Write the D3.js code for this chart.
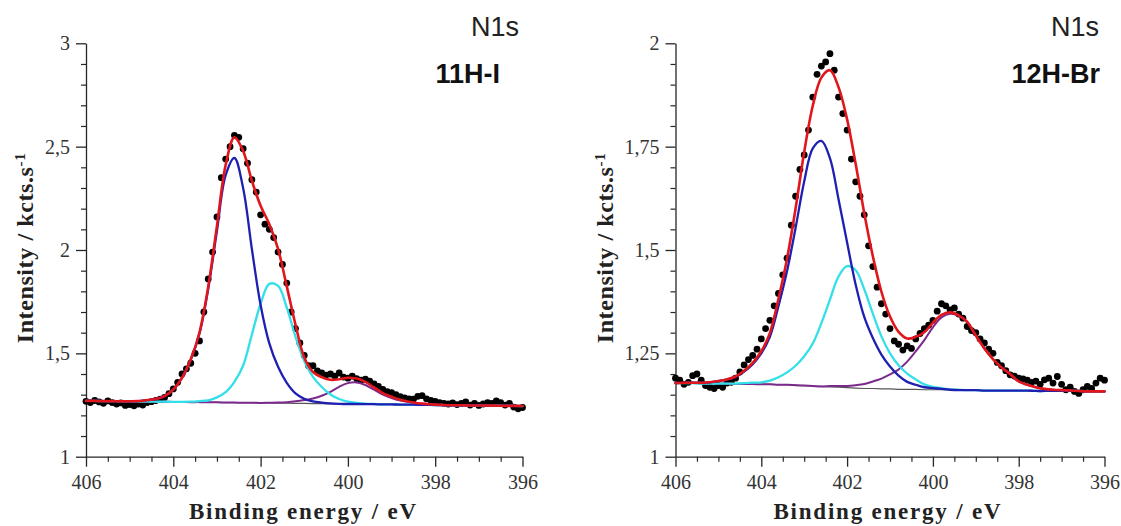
<!DOCTYPE html>
<html>
<head>
<meta charset="utf-8">
<script src="https://cdn.jsdelivr.net/npm/d3@7"></script>
<style>
  html, body { margin: 0; padding: 0; background: #fff; }
  svg { display: block; }
</style>
</head>
<body>
<svg id="chart" width="1121" height="526"></svg>
<script>
// ---------------- DATA ----------------
// Binding energy grid (eV) for the fitted curves
const fitEnergy = [406,405.8,405.6,405.4,405.2,405,404.8,404.6,404.4,404.2,404,403.8,403.6,403.4,403.2,403,402.8,402.6,402.4,402.2,402,401.8,401.6,401.4,401.2,401,400.8,400.6,400.4,400.2,400,399.8,399.6,399.4,399.2,399,398.8,398.6,398.4,398.2,398,397.8,397.6,397.4,397.2,397,396.8,396.6,396.4,396.2,396];
// Binding energy of the measured points (eV)
const dotEnergy = [406,405.9,405.8,405.7,405.6,405.5,405.4,405.3,405.2,405.1,405,404.9,404.8,404.7,404.6,404.5,404.4,404.3,404.2,404.1,404,403.9,403.8,403.7,403.6,403.5,403.4,403.3,403.2,403.1,403,402.9,402.8,402.7,402.6,402.5,402.4,402.3,402.2,402.1,402,401.9,401.8,401.7,401.6,401.5,401.4,401.3,401.2,401.1,401,400.9,400.8,400.7,400.6,400.5,400.4,400.3,400.2,400.1,400,399.9,399.8,399.7,399.6,399.5,399.4,399.3,399.2,399.1,399,398.9,398.8,398.7,398.6,398.5,398.4,398.3,398.2,398.1,398,397.9,397.8,397.7,397.6,397.5,397.4,397.3,397.2,397.1,397,396.9,396.8,396.7,396.6,396.5,396.4,396.3,396.2,396.1,396];

const xTickValues = [406,404,402,400,398,396];
const leftYTicks = [1,1.5,2,2.5,3];
const rightYTicks = [1,1.25,1.5,1.75,2];

const panelTitles = [["N1s","11H-I"],["N1s","12H-Br"]];
const xAxisTitle = "Binding energy / eV";
const yAxisTitle = "Intensity / kcts.s";
const yAxisTitleSup = "-1";

// ---- 11H-I (kcts/s) ----
const leftBackground = [1.270,1.270,1.269,1.269,1.268,1.268,1.267,1.267,1.266,1.266,1.265,1.265,1.264,1.264,1.263,1.263,1.262,1.262,1.261,1.261,1.260,1.260,1.259,1.259,1.258,1.258,1.257,1.257,1.256,1.256,1.255,1.255,1.254,1.254,1.253,1.253,1.252,1.252,1.251,1.251,1.250,1.250,1.249,1.249,1.248,1.248,1.247,1.247,1.246,1.246,1.245];
const leftBlue = [1.270,1.270,1.269,1.269,1.268,1.268,1.269,1.274,1.279,1.293,1.325,1.382,1.469,1.596,1.812,2.093,2.362,2.445,2.299,2.005,1.734,1.548,1.435,1.357,1.306,1.280,1.268,1.262,1.258,1.256,1.255,1.255,1.254,1.254,1.253,1.253,1.252,1.252,1.251,1.251,1.250,1.250,1.249,1.249,1.248,1.248,1.247,1.247,1.246,1.246,1.245];
const leftCyan = [1.270,1.270,1.269,1.269,1.268,1.268,1.267,1.267,1.266,1.266,1.265,1.265,1.266,1.269,1.273,1.287,1.312,1.362,1.441,1.591,1.740,1.836,1.826,1.721,1.580,1.463,1.386,1.337,1.301,1.279,1.266,1.260,1.257,1.255,1.253,1.253,1.252,1.252,1.251,1.251,1.250,1.250,1.249,1.249,1.248,1.248,1.247,1.247,1.246,1.246,1.245];
const leftPurple = [1.270,1.270,1.269,1.269,1.268,1.268,1.267,1.267,1.266,1.266,1.265,1.265,1.264,1.264,1.263,1.263,1.262,1.262,1.261,1.261,1.260,1.261,1.262,1.264,1.268,1.274,1.282,1.295,1.314,1.338,1.356,1.359,1.347,1.324,1.301,1.284,1.272,1.265,1.258,1.255,1.252,1.250,1.249,1.249,1.248,1.248,1.247,1.247,1.246,1.246,1.245];
const leftEnvelope = [1.270,1.270,1.269,1.269,1.268,1.268,1.269,1.274,1.279,1.293,1.325,1.382,1.471,1.601,1.822,2.117,2.412,2.545,2.479,2.335,2.214,2.125,2.005,1.824,1.638,1.480,1.410,1.385,1.372,1.375,1.382,1.378,1.362,1.335,1.308,1.290,1.275,1.266,1.259,1.255,1.252,1.250,1.249,1.249,1.248,1.248,1.247,1.247,1.246,1.246,1.245];
const leftCounts = [
  1.268,1.262,1.272,1.265,1.258,1.270,1.262,1.255,1.260,1.248,
  1.252,1.246,1.255,1.250,1.262,1.266,1.272,1.278,1.287,1.305,
  1.328,1.360,1.400,1.425,1.452,1.500,1.560,1.700,1.860,1.990,
  2.160,2.350,2.440,2.500,2.555,2.545,2.490,2.420,2.340,2.280,
  2.170,2.125,2.100,2.060,1.990,1.930,1.840,1.700,1.620,1.550,
  1.490,1.440,1.440,1.415,1.405,1.395,1.400,1.390,1.405,1.385,
  1.380,1.390,1.378,1.370,1.375,1.365,1.352,1.340,1.325,1.315,
  1.310,1.300,1.290,1.285,1.280,1.278,1.292,1.295,1.280,1.272,
  1.268,1.262,1.258,1.255,1.260,1.252,1.258,1.265,1.250,1.258,
  1.248,1.255,1.262,1.258,1.270,1.262,1.250,1.258,1.240,1.232,
  1.238];

// ---- 12H-Br (kcts/s) ----
const rightBackground = [1.178,1.178,1.178,1.177,1.177,1.177,1.177,1.176,1.176,1.176,1.175,1.175,1.174,1.174,1.173,1.172,1.171,1.170,1.169,1.168,1.167,1.166,1.165,1.165,1.164,1.164,1.163,1.163,1.163,1.162,1.162,1.162,1.161,1.161,1.161,1.161,1.160,1.160,1.160,1.160,1.160,1.160,1.159,1.159,1.159,1.159,1.159,1.159,1.158,1.158,1.158];
const rightBlue = [1.178,1.179,1.179,1.179,1.180,1.183,1.187,1.193,1.206,1.224,1.250,1.290,1.364,1.449,1.554,1.666,1.746,1.764,1.722,1.623,1.518,1.416,1.338,1.287,1.247,1.218,1.196,1.181,1.174,1.168,1.166,1.164,1.162,1.161,1.161,1.161,1.160,1.160,1.160,1.160,1.160,1.160,1.159,1.159,1.159,1.159,1.159,1.159,1.158,1.158,1.158];
const rightCyan = [1.178,1.178,1.178,1.177,1.177,1.177,1.177,1.177,1.178,1.179,1.180,1.184,1.192,1.204,1.220,1.243,1.274,1.323,1.380,1.436,1.461,1.451,1.405,1.346,1.291,1.250,1.221,1.201,1.187,1.175,1.169,1.166,1.163,1.162,1.161,1.161,1.160,1.160,1.160,1.160,1.160,1.160,1.159,1.159,1.159,1.159,1.159,1.159,1.158,1.158,1.158];
const rightPurple = [1.178,1.178,1.178,1.177,1.177,1.177,1.177,1.176,1.176,1.176,1.175,1.175,1.174,1.174,1.173,1.172,1.171,1.170,1.171,1.171,1.171,1.173,1.176,1.182,1.189,1.199,1.211,1.230,1.255,1.282,1.313,1.337,1.346,1.341,1.326,1.293,1.262,1.236,1.216,1.200,1.182,1.174,1.168,1.164,1.162,1.161,1.160,1.159,1.158,1.158,1.158];
const rightEnvelope = [1.178,1.179,1.179,1.179,1.180,1.183,1.187,1.194,1.208,1.227,1.255,1.299,1.382,1.479,1.601,1.737,1.849,1.917,1.935,1.894,1.816,1.708,1.589,1.485,1.399,1.339,1.302,1.286,1.290,1.301,1.324,1.343,1.349,1.342,1.326,1.293,1.262,1.236,1.216,1.200,1.182,1.174,1.168,1.164,1.162,1.161,1.160,1.159,1.158,1.158,1.158];
const rightCounts = [
  1.190,1.185,1.175,1.180,1.196,1.200,1.185,1.172,1.168,1.165,
  1.172,1.168,1.178,1.180,1.190,1.205,1.222,1.235,1.245,1.260,
  1.285,1.310,1.330,1.365,1.395,1.440,1.480,1.560,1.630,1.695,
  1.730,1.790,1.870,1.925,1.945,1.955,1.975,1.935,1.870,1.830,
  1.790,1.720,1.665,1.630,1.585,1.510,1.460,1.410,1.370,1.345,
  1.310,1.280,1.272,1.258,1.268,1.262,1.285,1.298,1.310,1.318,
  1.330,1.352,1.370,1.365,1.355,1.360,1.345,1.335,1.315,1.305,
  1.300,1.285,1.275,1.260,1.250,1.228,1.220,1.208,1.198,1.195,
  1.190,1.188,1.185,1.180,1.183,1.175,1.186,1.190,1.178,1.194,
  1.175,1.162,1.168,1.158,1.153,1.162,1.170,1.165,1.178,1.190,
  1.185];

// ---------------- LAYOUT / STYLE ----------------
const panels = [
  { left: 86, right: 522.5, yDomain: [1, 3], yTicks: leftYTicks, minorStep: 0.1,
    bg: leftBackground, blue: leftBlue, cyan: leftCyan, purple: leftPurple, env: leftEnvelope, counts: leftCounts,
    titles: panelTitles[0], titleRight: 519, subRight: 500, yTitleX: 33, xTitleX: 302.5 },
  { left: 675.5, right: 1104.5, yDomain: [1, 2], yTicks: rightYTicks, minorStep: 0.05,
    bg: rightBackground, blue: rightBlue, cyan: rightCyan, purple: rightPurple, env: rightEnvelope, counts: rightCounts,
    titles: panelTitles[1], titleRight: 1099, subRight: 1100, yTitleX: 613, xTitleX: 887 }
];
const plotTop = 43.3, plotBottom = 456.7;
const axisColor = "#262626";
const labelColor = "#333";
const serif = "'Liberation Serif', 'Times New Roman', serif";
const sans = "'Liberation Sans', Arial, sans-serif";

const svg = d3.select("#chart");
const fmt = v => String(v).replace(".", ",");

panels.forEach(p => {
  const g = svg.append("g");
  const x = d3.scaleLinear().domain([406, 396]).range([p.left, p.right]);
  const y = d3.scaleLinear().domain(p.yDomain).range([plotBottom, plotTop]);

  // minor ticks
  const majorX = new Set(xTickValues.map(v => v.toFixed(2)));
  const minorX = d3.range(396, 406.001, 0.5).filter(v => !majorX.has(v.toFixed(2)));
  const majorY = new Set(p.yTicks.map(v => v.toFixed(3)));
  const nMinor = Math.round((p.yDomain[1] - p.yDomain[0]) / p.minorStep);
  const minorY = d3.range(0, nMinor + 1).map(i => +(p.yDomain[0] + i * p.minorStep).toFixed(3))
                   .filter(v => !majorY.has(v.toFixed(3)));

  const gxMinor = g.append("g").attr("transform", `translate(0,${plotBottom})`)
    .call(d3.axisBottom(x).tickValues(minorX).tickSize(5).tickSizeOuter(0).tickFormat(""));
  const gyMinor = g.append("g").attr("transform", `translate(${p.left},0)`)
    .call(d3.axisLeft(y).tickValues(minorY).tickSize(5).tickSizeOuter(0).tickFormat(""));
  [gxMinor, gyMinor].forEach(a => { a.select(".domain").remove(); a.selectAll("line").attr("stroke", axisColor).attr("stroke-width", 1.2); });

  const gx = g.append("g").attr("transform", `translate(0,${plotBottom})`)
    .call(d3.axisBottom(x).tickValues(xTickValues).tickSize(10).tickSizeOuter(0).tickPadding(8).tickFormat(d => fmt(d)));
  const gy = g.append("g").attr("transform", `translate(${p.left},0)`)
    .call(d3.axisLeft(y).tickValues(p.yTicks).tickSize(10).tickSizeOuter(0).tickPadding(6).tickFormat(d => fmt(d)));
  [gx, gy].forEach(a => {
    a.select(".domain").attr("stroke", axisColor).attr("stroke-width", 1.3);
    a.selectAll("line").attr("stroke", axisColor).attr("stroke-width", 1.3);
    a.selectAll("text").attr("fill", labelColor).style("font-family", serif).style("font-size", "20px");
  });

  // data points
  g.append("g").selectAll("circle").data(p.counts).join("circle")
    .attr("cx", (d, i) => x(dotEnergy[i]))
    .attr("cy", d => y(d))
    .attr("r", 3.4)
    .attr("fill", "#000");

  // fitted curves
  const smooth = d3.line().x((d, i) => x(fitEnergy[i])).y(d => y(d)).curve(d3.curveCatmullRom.alpha(0.5));
  const straight = d3.line().x((d, i) => x(fitEnergy[i])).y(d => y(d));
  const curves = [
    { vals: p.bg, color: "#555", w: 1.2, gen: straight },
    { vals: p.purple, color: "#7b2a8c", w: 2.0, gen: smooth },
    { vals: p.cyan, color: "#33dfe8", w: 2.3, gen: smooth },
    { vals: p.blue, color: "#1f1fb2", w: 2.3, gen: smooth },
    { vals: p.env, color: "#e0161c", w: 2.6, gen: smooth }
  ];
  curves.forEach(c => {
    g.append("path").datum(c.vals).attr("d", c.gen)
      .attr("fill", "none").attr("stroke", c.color).attr("stroke-width", c.w)
      .attr("stroke-linejoin", "round").attr("stroke-linecap", "round");
  });

  // panel titles
  g.append("text").attr("x", p.titleRight).attr("y", 36).attr("text-anchor", "end")
    .style("font-family", sans).style("font-size", "27px").attr("fill", "#222").text(p.titles[0]);
  g.append("text").attr("x", p.subRight).attr("y", 83).attr("text-anchor", "end")
    .style("font-family", sans).style("font-size", "27px").style("font-weight", "bold").attr("fill", "#111").text(p.titles[1]);

  // axis titles
  g.append("text").attr("x", p.xTitleX).attr("y", 519).attr("text-anchor", "middle")
    .attr("textLength", 227).attr("lengthAdjust", "spacing")
    .style("font-family", serif).style("font-size", "23px").style("font-weight", "bold").attr("fill", "#222")
    .text(xAxisTitle);
  const yt = g.append("text").attr("transform", `translate(${p.yTitleX},248) rotate(-90)`)
    .attr("text-anchor", "middle")
    .style("font-family", serif).style("font-size", "24px").style("font-weight", "bold")
    .style("letter-spacing", "0.6px").attr("fill", "#222");
  yt.append("tspan").text(yAxisTitle);
  yt.append("tspan").attr("dy", "-0.55em").style("font-size", "15px").text(yAxisTitleSup);
});
</script>
</body>
</html>
